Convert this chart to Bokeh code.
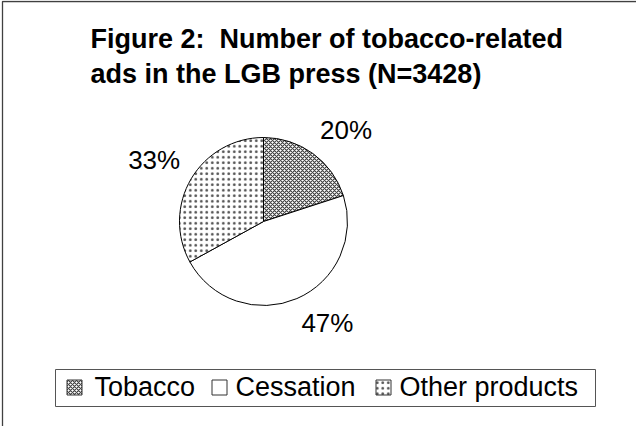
import math
from bokeh.plotting import figure
from bokeh.models import Range1d, ColumnDataSource
from bokeh.core.properties import value
from bokeh.embed import file_html
from bokeh.resources import INLINE

# ---- data ----
categories = ["Tobacco", "Cessation", "Other products"]
percents = [20, 47, 33]
title_lines = ["Figure 2:\u00a0 Number of tobacco-related", "ads in the LGB press (N=3428)"]

# ---- styles ----
hatches = ["diagonal_cross", "blank", "dot"]
hatch_scales = [4.0, 1, 5.5]
hatch_weights = [1.15, 1, 1.4]
hatch_colors = ["#404040", "#ffffff", "#505050"]
FONT = "Liberation Sans"

W, H = 636, 426
p = figure(width=W, height=H, output_backend="svg", toolbar_location=None,
           x_range=Range1d(0, W), y_range=Range1d(0, H), min_border=0)
p.axis.visible = False
p.grid.visible = False
p.outline_line_color = None
p.background_fill_color = "white"
p.border_fill_color = "white"

def X(px):
    return px - 8

def Y(py):
    return 434 - py

# frame (left and top edges visible)
p.line([X(10), X(10), W], [0, H - 1, H - 1], line_color="#404040", line_width=1.3)

# title
for i, t in enumerate(title_lines):
    p.text(x=[X(98)], y=[Y(46 + 35 * i)], text=[t], text_font=value(FONT),
           text_font_style="bold", text_font_size="27px", text_color="black",
           text_baseline="middle", text_align="left")

# pie
cx, cy, r = X(271), Y(229), 84
total = float(sum(percents))
starts, ends, mids = [], [], []
cum = 0.0
for v in percents:
    a0 = math.pi / 2 - 2 * math.pi * cum / total
    cum += v
    a1 = math.pi / 2 - 2 * math.pi * cum / total
    starts.append(a1)
    ends.append(a0)
    mids.append((a0 + a1) / 2)

src = ColumnDataSource(dict(start=starts, end=ends, hatch=hatches, hs=hatch_scales,
                            hw=hatch_weights, hc=hatch_colors, cat=categories))
p.wedge(x=cx, y=cy, radius=r, start_angle="start", end_angle="end", source=src,
        fill_color="white", line_color="black", line_width=1,
        hatch_pattern="hatch", hatch_scale="hs", hatch_weight="hw", hatch_color="hc")

# percentage labels placed outside the slice, box corner touching the mid-angle ray
R_lab, half_w, half_h = 98, 25, 12
def sgn(v):
    return 1 if v >= 0 else -1
lx = [cx + R_lab * math.cos(m) + half_w * sgn(math.cos(m)) for m in mids]
ly = [cy + R_lab * math.sin(m) + half_h * sgn(math.sin(m)) for m in mids]
p.text(x=lx, y=ly, text=[f"{v}%" for v in percents], text_font=value(FONT),
       text_font_size="26px", text_color="black", text_align="center",
       text_baseline="middle")

# legend
p.quad(left=X(63), right=X(603), bottom=Y(414), top=Y(377), fill_color="white",
       line_color="#555555", line_width=1)
sq_centers = [82, 227, 391]
txt_starts = [102, 243, 407]
p.rect(x=[X(c) for c in sq_centers], y=[Y(395)] * 3, width=15, height=15,
       fill_color="white", line_color="#333333", line_width=1,
       hatch_pattern=hatches, hatch_scale=hatch_scales, hatch_weight=hatch_weights,
       hatch_color=hatch_colors)
p.text(x=[X(s) for s in txt_starts], y=[Y(394)] * 3, text=categories,
       text_font=value(FONT), text_font_size="27px", text_color="black",
       text_baseline="middle", text_align="left")

open("out.html", "w").write(file_html(p, INLINE))
